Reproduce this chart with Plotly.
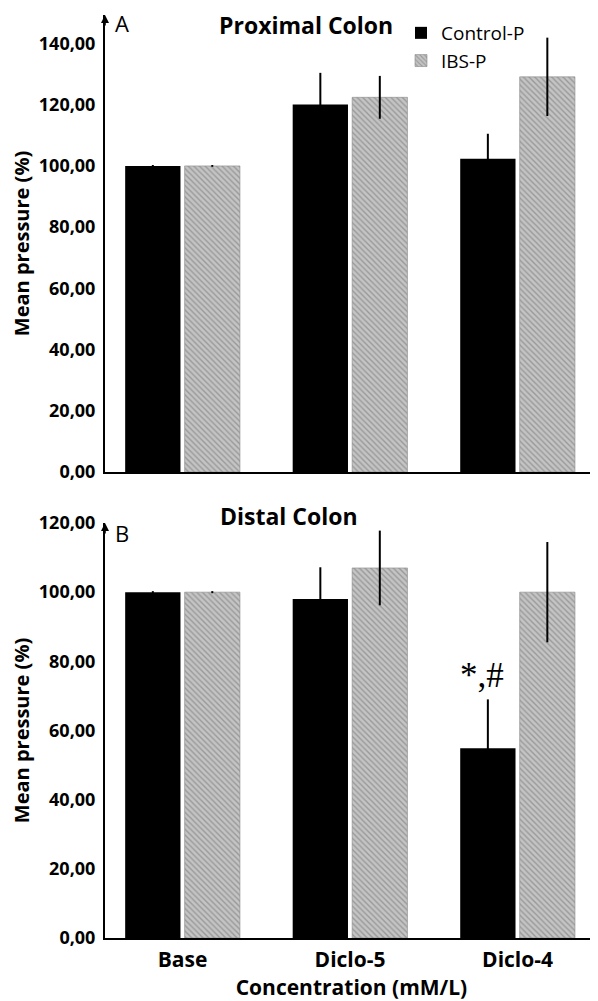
import plotly.graph_objects as go
from plotly.subplots import make_subplots

categories = ["Base", "Diclo-5", "Diclo-4"]
series_names = ["Control-P", "IBS-P"]

prox_control = [100.0, 120.1, 102.3]
prox_control_err = [0.3, 10.3, 8.2]
prox_ibs = [100.0, 122.4, 129.1]
prox_ibs_err = [0.3, 7.0, 12.8]

dist_control = [100.0, 98.0, 54.9]
dist_control_err = [0.3, 9.2, 14.1]
dist_ibs = [100.0, 107.0, 100.0]
dist_ibs_err = [0.3, 10.8, 14.5]

prox_ticks = [0, 20, 40, 60, 80, 100, 120, 140]
dist_ticks = [0, 20, 40, 60, 80, 100, 120]


def fmt(v):
    return f"{v:.2f}".replace(".", ",")


FONT = "Open Sans"
BLACK = "#000000"
GRAY = "#a9a9a9"
HATCH = "#6e6e6e"

fig = make_subplots(rows=2, cols=1, shared_xaxes=False, vertical_spacing=0.0)


def add_panel(row, ctrl, ctrl_err, ibs, ibs_err, show_legend):
    fig.add_trace(go.Bar(
        x=categories, y=ctrl, name=series_names[0],
        marker=dict(color=BLACK, line=dict(width=0)),
        error_y=dict(type="data", array=ctrl_err, color=BLACK, thickness=2, width=0),
        showlegend=show_legend, legendgroup="c"), row=row, col=1)
    fig.add_trace(go.Bar(
        x=categories, y=ibs, name=series_names[1],
        marker=dict(color=GRAY, line=dict(width=0.6, color="#888888"),
                    pattern=dict(shape="\\", fgcolor=HATCH, bgcolor="#c4c4c4",
                                 size=4, solidity=0.35)),
        error_y=dict(type="data", array=ibs_err, color=BLACK, thickness=2, width=0),
        showlegend=show_legend, legendgroup="i"), row=row, col=1)


add_panel(1, prox_control, prox_control_err, prox_ibs, prox_ibs_err, True)
add_panel(2, dist_control, dist_control_err, dist_ibs, dist_ibs_err, False)

# the page body adds an 8px offset, so the figure is drawn 8px smaller
OFF = 8
W, H = 598 - OFF, 1001 - OFF
ML, MR, MT, MB = 105 - OFF, 0, 15 - OFF, 1001 - 938
ph = H - MT - MB
pw = W - ML - MR


def py(win_y):
    # window pixel y -> paper fraction
    return (938 - win_y) / ph


def px(win_x):
    return (win_x - 105) / pw


top_dom = [py(472), 1.0]
bot_dom = [0.0, py(523)]

ytickfont = dict(family=FONT, size=18, color=BLACK, weight="bold")
xtickfont = dict(family=FONT, size=21, color=BLACK, weight="bold")
ytitlefont = dict(family=FONT, size=20, color=BLACK, weight="bold")
xtitlefont = dict(family=FONT, size=21, color=BLACK, weight="bold")
axis_common = dict(showgrid=False, zeroline=False, showline=True, linecolor=BLACK,
                   linewidth=2, ticks="", mirror=False, automargin=False)

fig.update_xaxes(range=[-0.463, 2.48], **axis_common)
fig.update_xaxes(showticklabels=False, row=1, col=1)
fig.update_xaxes(tickfont=xtickfont, ticklabelstandoff=2, row=2, col=1,
                 title=dict(text="Concentration (mM/L)", font=xtitlefont, standoff=0))

fig.update_yaxes(domain=top_dom, range=[0, 149.3], tickvals=prox_ticks,
                 ticktext=[fmt(v) for v in prox_ticks], tickfont=ytickfont,
                 ticklabelstandoff=4,
                 title=dict(text="Mean pressure (%)", font=ytitlefont, standoff=4),
                 row=1, col=1, **axis_common)
fig.update_yaxes(domain=bot_dom, range=[0, 120], tickvals=dist_ticks,
                 ticktext=[fmt(v) for v in dist_ticks], tickfont=ytickfont,
                 ticklabelstandoff=4,
                 title=dict(text="Mean pressure (%)", font=ytitlefont, standoff=4),
                 row=2, col=1, **axis_common)

annotations = []
# axis arrows
for ytop in [top_dom[1], bot_dom[1]]:
    annotations.append(dict(x=0, y=ytop, xref="paper", yref="paper", text="",
                            showarrow=True, arrowhead=2, arrowsize=1, arrowwidth=1.6,
                            arrowcolor=BLACK, ax=0, ay=12, axref="pixel", ayref="pixel",
                            standoff=0))
# panel letters
annotations.append(dict(x=px(113), y=py(23), xref="paper", yref="paper",
                        text="A", showarrow=False, xanchor="left", yanchor="middle",
                        font=dict(family=FONT, size=22, color=BLACK)))
annotations.append(dict(x=px(113), y=py(533), xref="paper", yref="paper",
                        text="B", showarrow=False, xanchor="left", yanchor="middle",
                        font=dict(family=FONT, size=22, color=BLACK)))
# titles
annotations.append(dict(x=px(306), y=py(25), xref="paper", yref="paper",
                        text="Proximal Colon", showarrow=False, yanchor="middle",
                        font=dict(family=FONT, size=23, color=BLACK, weight="bold")))
annotations.append(dict(x=px(289), y=py(516), xref="paper", yref="paper",
                        text="Distal Colon", showarrow=False, yanchor="middle",
                        font=dict(family=FONT, size=23, color=BLACK, weight="bold")))
# significance mark
annotations.append(dict(x=categories[2], y=dist_control[2] + dist_control_err[2],
                        xref="x2", yref="y2", xshift=-36, yshift=2,
                        text="*,#", showarrow=False, yanchor="bottom",
                        font=dict(family="Liberation Serif", size=35, color=BLACK)))

fig.update_layout(
    width=W, height=H,
    margin=dict(l=ML, r=MR, t=MT, b=MB),
    plot_bgcolor="white", paper_bgcolor="white",
    barmode="group", bargap=0.29, bargroupgap=0.07,
    legend=dict(x=px(401), y=py(14), xanchor="left", yanchor="top",
                font=dict(family=FONT, size=19, color=BLACK),
                bgcolor="rgba(0,0,0,0)", tracegroupgap=0, itemwidth=30),
    annotations=annotations,
    font=dict(family=FONT, color=BLACK),
)

fig.write_html("out.html")
